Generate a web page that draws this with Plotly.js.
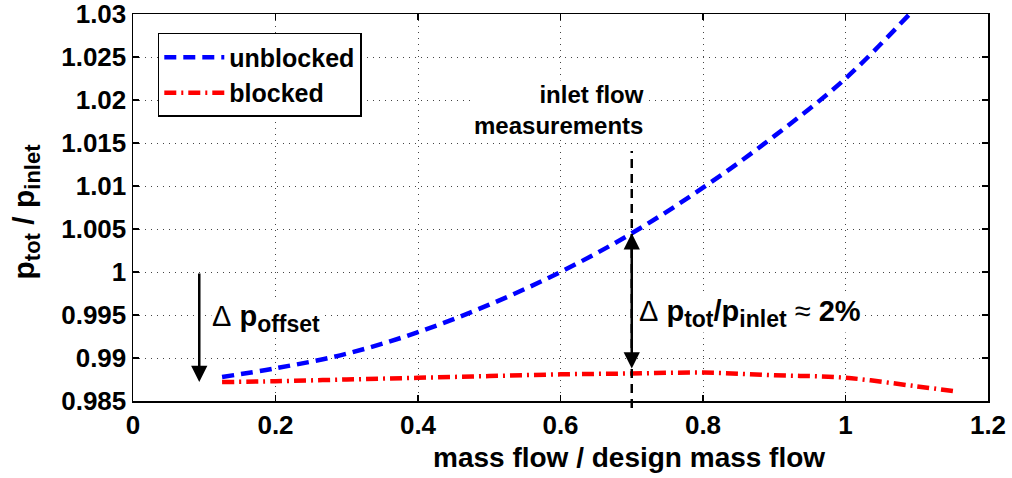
<!DOCTYPE html>
<html>
<head>
<meta charset="utf-8">
<script src="https://cdn.plot.ly/plotly-3.0.1.min.js"></script>
<style>html,body{margin:0;padding:0;background:#fff}#chart{width:1012px;height:478px}</style>
</head>
<body>
<div id="chart"></div>
<script>
// ---- data ----
var flowUnblocked = [0.125, 0.2, 0.3, 0.4, 0.5, 0.6, 0.7, 0.8, 0.9, 1.0, 1.09];
var pUnblocked    = [0.9878, 0.9888, 0.9905, 0.9930, 0.9962, 1.0000, 1.0045, 1.0098, 1.0158, 1.0225, 1.0300];
var flowBlocked   = [0.125, 0.2, 0.3, 0.4, 0.5, 0.6, 0.7, 0.8, 0.9, 1.0, 1.1, 1.156];
var pBlocked      = [0.9872, 0.9873, 0.9875, 0.9877, 0.9879, 0.9881, 0.9882, 0.9883, 0.9880, 0.9877, 0.9867, 0.9861];
var xTickVals   = [0, 0.2, 0.4, 0.6, 0.8, 1, 1.2];
var xTickText   = ['0', '0.2', '0.4', '0.6', '0.8', '1', '1.2'];
var yTickVals   = [0.985, 0.99, 0.995, 1, 1.005, 1.01, 1.015, 1.02, 1.025, 1.03];
var yTickText   = ['0.985', '0.99', '0.995', '1', '1.005', '1.01', '1.015', '1.02', '1.025', '1.03'];
var measurementFlow = 0.7;      // inlet flow measurement position
var offsetArrowFlow = 0.093;    // x of the Δp_offset arrow
var offsetArrowTop  = 1.0;      // tail of the Δp_offset arrow

var FONT = 'Liberation Sans, Arial, Helvetica, sans-serif';
var idx = flowUnblocked.indexOf(measurementFlow);
var idxB = flowBlocked.indexOf(measurementFlow);
function sub(t, px) { return '<sub><span style="font-size:' + px + 'px">' + t + '</span></sub>'; }

var traces = [
  {x: flowUnblocked, y: pUnblocked, name: 'unblocked', mode: 'lines',
   line: {color: '#0000ff', width: 4.5, dash: '12px,7px', shape: 'spline'}},
  {x: flowBlocked, y: pBlocked, name: 'blocked', mode: 'lines',
   line: {color: '#ff0000', width: 4.5, dash: '12px,5px,2px,5px', shape: 'spline'}}
];

var axisCommon = {
  showline: true, linecolor: '#000', linewidth: 1.5, mirror: 'ticks',
  ticks: 'inside', ticklen: 6, tickwidth: 1.5, tickcolor: '#000',
  showgrid: true, gridcolor: '#444', gridwidth: 1, griddash: '1px,5px',
  zeroline: false, ticklabeloverflow: 'allow',
  tickfont: {family: FONT, size: 26, color: '#000', weight: 'bold'}
};

var layout = {
  width: 1012, height: 478,
  margin: {l: 133, r: 24, t: 14, b: 77},
  paper_bgcolor: '#fff', plot_bgcolor: '#fff',
  showlegend: true,
  legend: {x: 0.029, y: 0.951, xanchor: 'left', yanchor: 'top',
           bgcolor: '#fff', bordercolor: '#000', borderwidth: 1.5,
           font: {family: FONT, size: 25, color: '#000', weight: 'bold'},
           itemwidth: 60, tracegroupgap: 0},
  xaxis: Object.assign({}, axisCommon, {range: [0, 1.2], tickvals: xTickVals, ticktext: xTickText}),
  yaxis: Object.assign({}, axisCommon, {range: [0.985, 1.03], tickvals: yTickVals, ticktext: yTickText}),
  shapes: [
    {type: 'line', xref: 'x', yref: 'paper', x0: measurementFlow, x1: measurementFlow,
     y0: -0.018, y1: 0.646, line: {color: '#000', width: 2.5, dash: '9px,6px'}}
  ],
  annotations: [
    // x axis title
    {xref: 'paper', yref: 'paper', x: 0.58, y: -0.145, xanchor: 'center', yanchor: 'middle',
     showarrow: false, text: 'mass flow / design mass flow',
     font: {family: FONT, size: 28, color: '#000', weight: 'bold'}},
    // y axis title
    {xref: 'paper', yref: 'paper', x: -0.125, y: 0.49, xanchor: 'center', yanchor: 'middle',
     textangle: -90, showarrow: false, text: 'p' + sub('tot', 22) + ' / p' + sub('inlet', 22),
     font: {family: FONT, size: 30, color: '#000', weight: 'bold'}},
    // inlet flow measurements label
    {xref: 'x', yref: 'y', x: measurementFlow, y: 1.0153, xanchor: 'right', yanchor: 'bottom',
     xshift: 13, showarrow: false, align: 'right', text: 'inlet flow<br>measurements',
     bgcolor: '#fff', borderpad: 0,
     font: {family: FONT, size: 24, color: '#000', weight: 'bold'}},
    // double arrow between curves
    {xref: 'x', yref: 'y', axref: 'x', ayref: 'y',
     x: measurementFlow, y: pUnblocked[idx], ax: measurementFlow, ay: pBlocked[idxB] + 0.0004,
     text: '', showarrow: true, arrowside: 'end+start',
     arrowhead: 2, startarrowhead: 2, arrowsize: 1.3, startarrowsize: 1.3, arrowwidth: 2.5, arrowcolor: '#000'},
    {xref: 'x', yref: 'y', x: measurementFlow, y: 0.9952, xanchor: 'left', yanchor: 'middle',
     xshift: 6, showarrow: false, bgcolor: '#fff', borderpad: 0,
     text: '<span style="font-weight:normal">Δ</span> p' + sub('tot', 23) + '/p' + sub('inlet', 23) + ' <span style="font-weight:normal">≈</span> 2%',
     font: {family: FONT, size: 29, color: '#000', weight: 'bold'}},
    // offset arrow
    {xref: 'x', yref: 'y', axref: 'x', ayref: 'y',
     x: offsetArrowFlow, y: pBlocked[0], ax: offsetArrowFlow, ay: offsetArrowTop,
     text: '', showarrow: true, arrowhead: 2, arrowsize: 1.3, arrowwidth: 2.5, arrowcolor: '#000'},
    {xref: 'x', yref: 'y', x: offsetArrowFlow, y: 0.9946, xanchor: 'left', yanchor: 'middle',
     xshift: 12, showarrow: false, bgcolor: '#fff', borderpad: 0,
     text: '<span style="font-weight:normal">Δ</span> p' + sub('offset', 23),
     font: {family: FONT, size: 29, color: '#000', weight: 'bold'}}
  ]
};

Plotly.newPlot('chart', traces, layout, {displayModeBar: false, staticPlot: true});
</script>
</body>
</html>
